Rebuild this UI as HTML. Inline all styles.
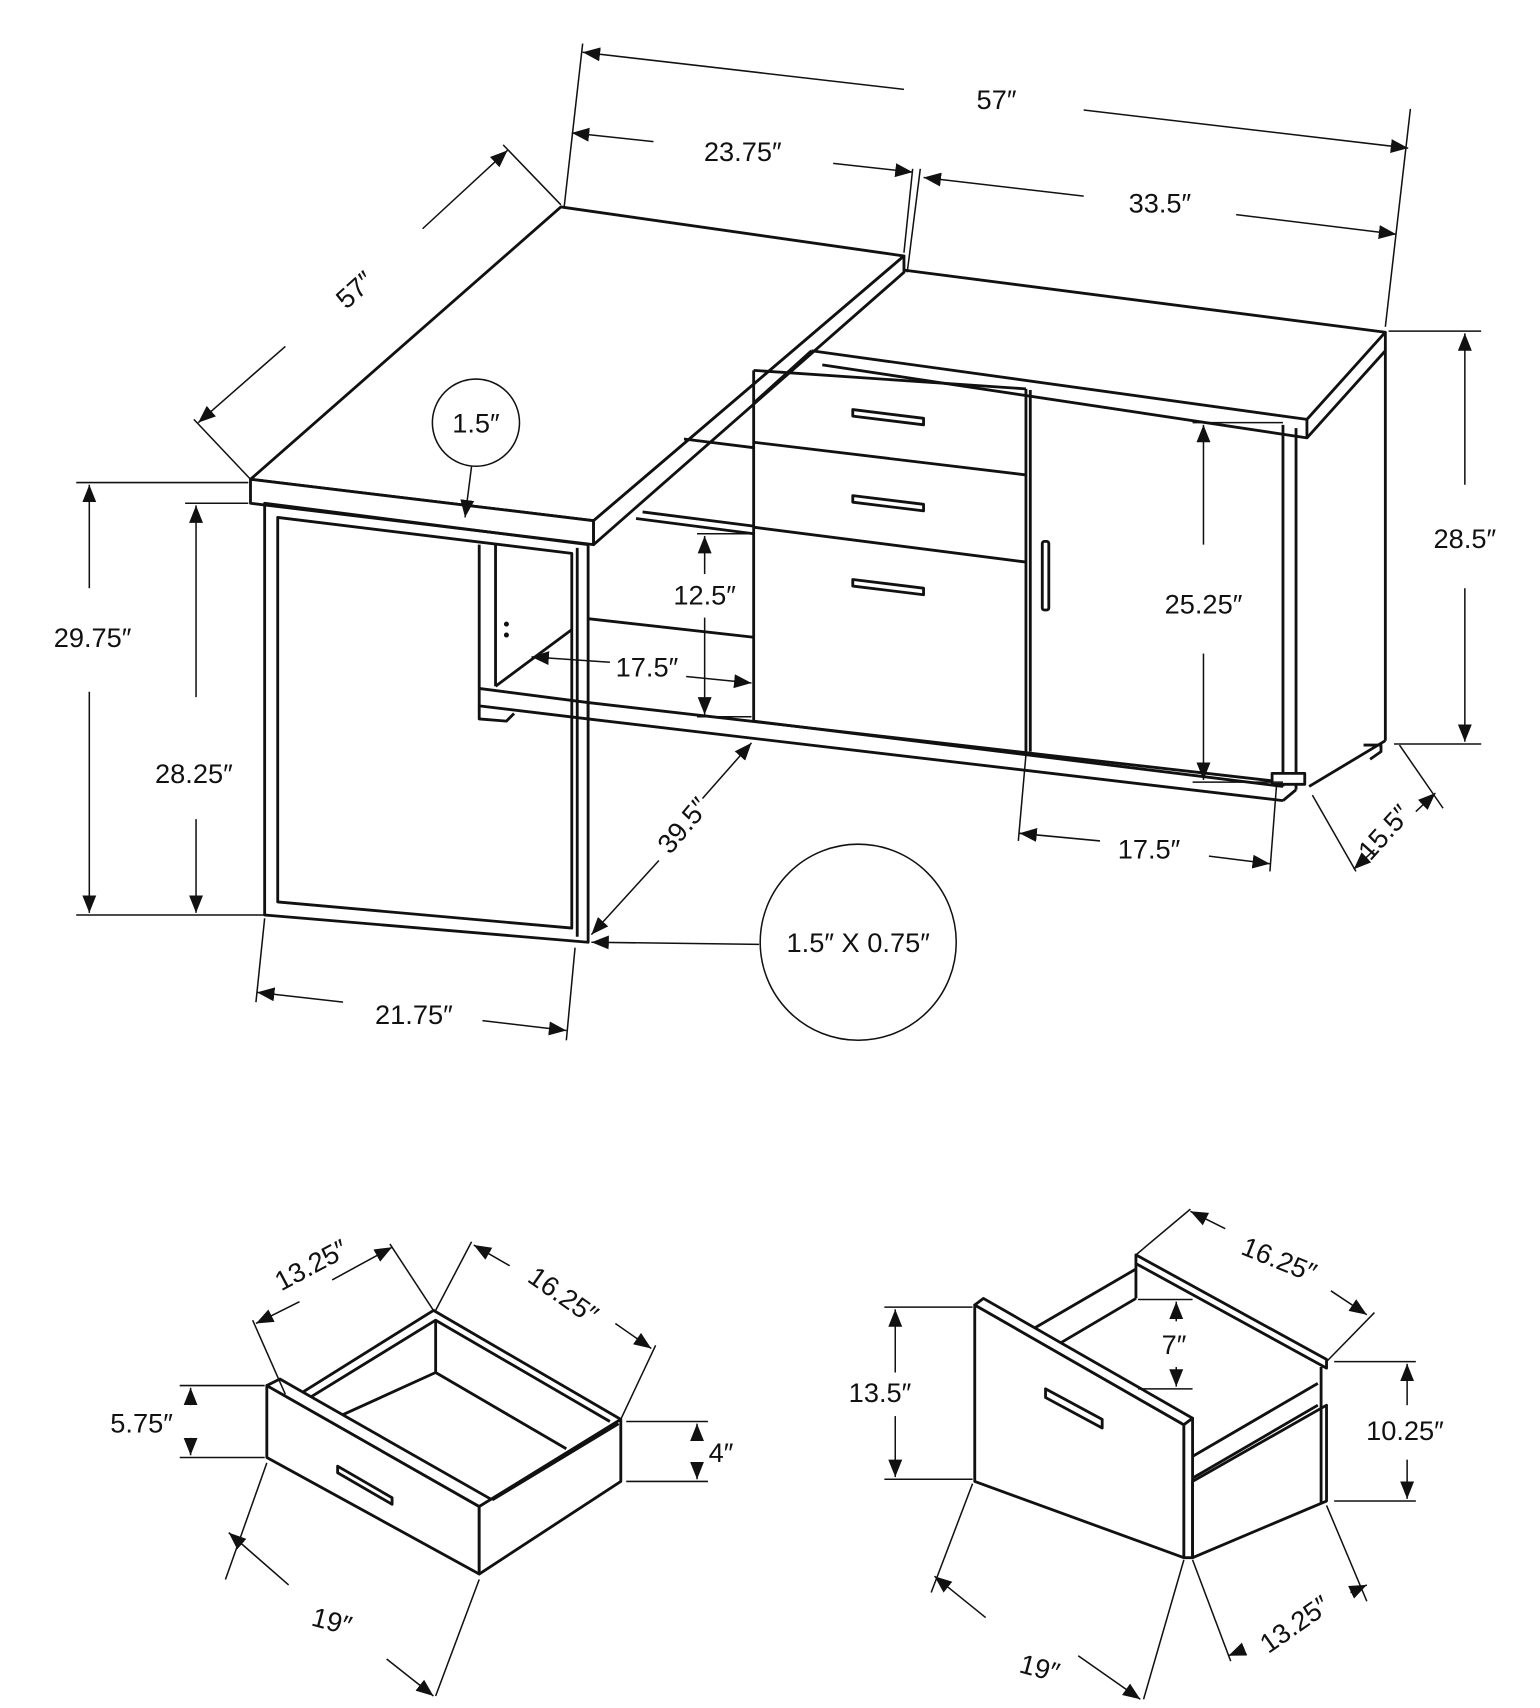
<!DOCTYPE html>
<html><head><meta charset="utf-8"><style>
html,body{margin:0;padding:0;background:#fff;}
svg{display:block;}
text{font-family:"Liberation Sans Narrow","Liberation Sans",sans-serif;fill:#111;font-size:25px;}
</style></head><body>
<svg width="1540" height="1708" viewBox="0 0 1414 1568" preserveAspectRatio="none" xmlns="http://www.w3.org/2000/svg">
<defs>
<marker id="a" viewBox="0 0 10 10" refX="10" refY="5" markerWidth="16" markerHeight="16" markerUnits="userSpaceOnUse" orient="auto-start-reverse"><path d="M0,1 L10,5 L0,9 z" fill="#111"/></marker>
</defs>
<g stroke="#111" fill="none" stroke-width="2.6" stroke-linejoin="round">
<polygon points="515,190 830,235 545,478 230,440" fill="#fff"/>
<polygon points="230,440 545,478 545,500 230,462" fill="#fff"/>
<polygon points="545,478 830,235 830,250 545,500" fill="#fff"/>
<polyline points="830,248 1272,305 1200,385 745,322"/>
<polyline points="1272,305 1272,322 1200,402 755,335"/>
<line x1="1200" y1="385" x2="1200" y2="402"/>
<line x1="1272" y1="322" x2="1272" y2="680"/>
<line x1="1272" y1="680" x2="1202" y2="722"/>
<line x1="1178" y1="390" x2="1178" y2="722"/>
<line x1="1190" y1="393" x2="1190" y2="725"/>
<line x1="692" y1="340" x2="692" y2="662"/>
<line x1="942" y1="357" x2="942" y2="690"/>
<line x1="946" y1="358" x2="946" y2="690"/>
<line x1="745" y1="322" x2="692" y2="370"/>
<line x1="692" y1="340" x2="942" y2="357"/>
<line x1="692" y1="406" x2="942" y2="436"/>
<line x1="692" y1="484" x2="942" y2="516"/>
<line x1="692" y1="662" x2="1178" y2="722"/>
<line x1="540" y1="645" x2="1178" y2="718"/>
<line x1="540" y1="660" x2="1178" y2="735"/>
<line x1="1178" y1="735" x2="1190" y2="725"/>
<rect x="1168" y="710" width="30" height="10" fill="#fff"/>
<polyline points="1252,684 1268,684 1268,690 1258,697"/>
<polygon points="783,376 848,384 848,390 783,382"/>
<polygon points="783,455 848,463 848,469 783,461"/>
<polygon points="783,532 848,540 848,546 783,538"/>
<rect x="957" y="497" width="6" height="63" rx="2"/>
<line x1="628" y1="403" x2="692" y2="411"/>
<line x1="590" y1="470" x2="692" y2="483"/>
<line x1="584" y1="476" x2="692" y2="490"/>
<line x1="540" y1="568" x2="692" y2="585"/>
<line x1="440" y1="500" x2="440" y2="632"/>
<line x1="455" y1="500" x2="455" y2="630"/>
<line x1="455" y1="630" x2="525" y2="578"/>
<polygon points="440,632 540,645 540,660 440,648" fill="#fff"/>
<polyline points="440,648 440,660 465,662 472,655"/>
<circle cx="465" cy="573" r="1" fill="#111"/><circle cx="465" cy="583" r="1" fill="#111"/>
<polygon points="243,462 540,500 540,865 243,840" fill="none"/>
<polygon points="255,475 525,508 525,852 255,828" fill="none"/>
<line x1="530" y1="503" x2="530" y2="860"/>
</g>
<g stroke="#111" fill="none" stroke-width="1.4">
<line x1="535" y1="40" x2="518" y2="190"/>
<line x1="1295" y1="100" x2="1272" y2="300"/>
<line x1="535" y1="48" x2="830" y2="82" marker-start="url(#a)"/>
<line x1="995" y1="101" x2="1293" y2="136" marker-end="url(#a)"/>
<line x1="525" y1="122" x2="600" y2="130" marker-start="url(#a)"/>
<line x1="765" y1="150" x2="838" y2="158" marker-end="url(#a)"/>
<line x1="838" y1="155" x2="830" y2="232"/>
<line x1="845" y1="155" x2="833" y2="250"/>
<line x1="848" y1="163" x2="995" y2="180" marker-start="url(#a)"/>
<line x1="1135" y1="197" x2="1282" y2="215" marker-end="url(#a)"/>
<line x1="462" y1="133" x2="515" y2="188"/>
<line x1="178" y1="385" x2="230" y2="440"/>
<line x1="388" y1="210" x2="466" y2="138" marker-end="url(#a)"/>
<line x1="262" y1="318" x2="182" y2="388" marker-end="url(#a)"/>
<line x1="1275" y1="304" x2="1360" y2="304"/>
<line x1="1280" y1="683" x2="1360" y2="683"/>
<line x1="1345" y1="445" x2="1345" y2="306" marker-end="url(#a)"/>
<line x1="1345" y1="540" x2="1345" y2="681" marker-end="url(#a)"/>
<line x1="1095" y1="388" x2="1178" y2="388"/>
<line x1="1095" y1="718" x2="1178" y2="718"/>
<line x1="1105" y1="500" x2="1105" y2="390" marker-end="url(#a)"/>
<line x1="1105" y1="600" x2="1105" y2="716" marker-end="url(#a)"/>
<line x1="70" y1="443" x2="228" y2="443"/>
<line x1="170" y1="462" x2="228" y2="462"/>
<line x1="70" y1="840" x2="243" y2="840"/>
<line x1="82" y1="540" x2="82" y2="445" marker-end="url(#a)"/>
<line x1="82" y1="635" x2="82" y2="838" marker-end="url(#a)"/>
<line x1="180" y1="640" x2="180" y2="464" marker-end="url(#a)"/>
<line x1="180" y1="752" x2="180" y2="838" marker-end="url(#a)"/>
<line x1="640" y1="490" x2="690" y2="490"/>
<line x1="640" y1="658" x2="690" y2="658"/>
<line x1="647" y1="527" x2="647" y2="492" marker-end="url(#a)"/>
<line x1="647" y1="567" x2="647" y2="656" marker-end="url(#a)"/>
<line x1="560" y1="608" x2="488" y2="603" marker-end="url(#a)"/>
<line x1="630" y1="621" x2="690" y2="627" marker-end="url(#a)"/>
<circle cx="437" cy="388" r="40"/>
<line x1="433" y1="428" x2="427" y2="475" marker-end="url(#a)"/>
<line x1="690" y1="682" x2="645" y2="733" marker-start="url(#a)"/>
<line x1="605" y1="790" x2="543" y2="858" marker-end="url(#a)"/>
<ellipse cx="788" cy="865" rx="90" ry="90"/>
<line x1="697" y1="867" x2="543" y2="865" marker-end="url(#a)"/>
<line x1="243" y1="843" x2="235" y2="920"/>
<line x1="528" y1="870" x2="520" y2="955"/>
<line x1="315" y1="920" x2="236" y2="911" marker-end="url(#a)"/>
<line x1="443" y1="937" x2="520" y2="946" marker-end="url(#a)"/>
<line x1="942" y1="693" x2="935" y2="772"/>
<line x1="1172" y1="722" x2="1166" y2="800"/>
<line x1="1010" y1="772" x2="936" y2="765" marker-end="url(#a)"/>
<line x1="1110" y1="786" x2="1166" y2="793" marker-end="url(#a)"/>
<line x1="1205" y1="730" x2="1245" y2="800"/>
<line x1="1285" y1="684" x2="1325" y2="742"/>
<line x1="1262" y1="780" x2="1243" y2="798" marker-end="url(#a)"/>
<line x1="1300" y1="745" x2="1318" y2="728" marker-end="url(#a)"/>
</g>
<g stroke="#111" fill="#fff" stroke-width="2.6" stroke-linejoin="round">
<polyline fill="none" points="270,1283 398,1203 570,1303"/>
<polyline fill="none" points="278,1287 400,1212 560,1305"/>
<line x1="400" y1="1212" x2="400" y2="1260"/>
<polyline fill="none" points="312,1300 400,1260 520,1330"/>
<polygon points="245,1272 440,1383 440,1445 245,1338"/>
<polygon points="245,1272 440,1383 452,1377 257,1266"/>
<polygon points="440,1383 570,1303 570,1360 440,1445"/>
<polyline fill="none" points="452,1377 568,1307"/>
<polygon points="310,1346 360,1375 360,1381 310,1352"/>
</g>
<g stroke="#111" fill="#fff" stroke-width="2.6" stroke-linejoin="round">
<polygon fill="none" points="1043,1152 1218,1248 1218,1256 1043,1160"/>
<polyline fill="none" points="1043,1160 1043,1192"/>
<polyline fill="none" points="1043,1165 945,1222"/>
<polyline fill="none" points="1043,1192 965,1238"/>
<polyline fill="none" points="1043,1275 1080,1298"/>
<line x1="1213" y1="1255" x2="1213" y2="1380"/>
<polyline fill="none" points="1210,1270 1095,1337"/>
<polyline fill="none" points="1210,1290 1095,1357"/>
<polygon points="895,1198 1087,1308 1087,1430 895,1360"/>
<polygon points="895,1198 1087,1308 1095,1302 903,1192"/>
<polygon points="1087,1308 1095,1302 1095,1430 1087,1430"/>
<polygon points="1095,1360 1218,1290 1218,1378 1095,1430" fill="none"/>
<polygon points="960,1275 1012,1303 1012,1311 960,1283"/>
</g>
<g stroke="#111" fill="none" stroke-width="1.4">
<line x1="398" y1="1203" x2="358" y2="1142"/>
<line x1="262" y1="1280" x2="232" y2="1212"/>
<line x1="305" y1="1175" x2="360" y2="1145" marker-end="url(#a)"/>
<line x1="275" y1="1195" x2="235" y2="1215" marker-end="url(#a)"/>
<line x1="400" y1="1203" x2="433" y2="1140"/>
<line x1="570" y1="1303" x2="602" y2="1235"/>
<line x1="468" y1="1162" x2="435" y2="1143" marker-end="url(#a)"/>
<line x1="565" y1="1215" x2="598" y2="1238" marker-end="url(#a)"/>
<line x1="165" y1="1272" x2="243" y2="1272"/>
<line x1="165" y1="1338" x2="243" y2="1338"/>
<line x1="175" y1="1290" x2="175" y2="1274" marker-end="url(#a)"/>
<line x1="175" y1="1320" x2="175" y2="1336" marker-end="url(#a)"/>
<line x1="575" y1="1305" x2="650" y2="1305"/>
<line x1="575" y1="1360" x2="650" y2="1360"/>
<line x1="640" y1="1322" x2="640" y2="1307" marker-end="url(#a)"/>
<line x1="640" y1="1345" x2="640" y2="1358" marker-end="url(#a)"/>
<line x1="245" y1="1343" x2="207" y2="1450"/>
<line x1="440" y1="1450" x2="400" y2="1557"/>
<line x1="265" y1="1455" x2="210" y2="1407" marker-end="url(#a)"/>
<line x1="355" y1="1523" x2="398" y2="1557" marker-end="url(#a)"/>
<line x1="1043" y1="1152" x2="1093" y2="1110"/>
<line x1="1218" y1="1250" x2="1262" y2="1205"/>
<line x1="1125" y1="1128" x2="1093" y2="1112" marker-end="url(#a)"/>
<line x1="1222" y1="1185" x2="1255" y2="1207" marker-end="url(#a)"/>
<line x1="1045" y1="1193" x2="1095" y2="1193"/>
<line x1="1045" y1="1275" x2="1095" y2="1275"/>
<line x1="1080" y1="1213" x2="1080" y2="1195" marker-end="url(#a)"/>
<line x1="1080" y1="1255" x2="1080" y2="1273" marker-end="url(#a)"/>
<line x1="812" y1="1200" x2="893" y2="1200"/>
<line x1="812" y1="1358" x2="893" y2="1358"/>
<line x1="822" y1="1260" x2="822" y2="1202" marker-end="url(#a)"/>
<line x1="822" y1="1300" x2="822" y2="1356" marker-end="url(#a)"/>
<line x1="1225" y1="1250" x2="1300" y2="1250"/>
<line x1="1225" y1="1378" x2="1300" y2="1378"/>
<line x1="1292" y1="1290" x2="1292" y2="1252" marker-end="url(#a)"/>
<line x1="1292" y1="1340" x2="1292" y2="1376" marker-end="url(#a)"/>
<line x1="893" y1="1362" x2="855" y2="1462"/>
<line x1="1087" y1="1432" x2="1050" y2="1560"/>
<line x1="905" y1="1485" x2="858" y2="1447" marker-end="url(#a)"/>
<line x1="990" y1="1520" x2="1047" y2="1560" marker-end="url(#a)"/>
<line x1="1095" y1="1432" x2="1130" y2="1525"/>
<line x1="1218" y1="1382" x2="1255" y2="1470"/>
<line x1="1140" y1="1515" x2="1128" y2="1520" marker-end="url(#a)"/>
<line x1="1240" y1="1462" x2="1255" y2="1455" marker-end="url(#a)"/>
</g>
<text x="915" y="100" text-anchor="middle" font-size="27">57″</text>
<text x="682" y="148" text-anchor="middle" font-size="27">23.75″</text>
<text x="1065" y="195" text-anchor="middle" font-size="27">33.5″</text>
<text x="325" y="275" text-anchor="middle" font-size="27" transform="rotate(-42 325 265)">57″</text>
<text x="437" y="397" text-anchor="middle" font-size="25">1.5″</text>
<text x="1345" y="503" text-anchor="middle" font-size="27">28.5″</text>
<text x="1105" y="563" text-anchor="middle" font-size="27">25.25″</text>
<text x="85" y="594" text-anchor="middle" font-size="27">29.75″</text>
<text x="178" y="719" text-anchor="middle" font-size="27">28.25″</text>
<text x="647" y="555" text-anchor="middle" font-size="21">12.5″</text>
<text x="594" y="621" text-anchor="middle" font-size="21">17.5″</text>
<text x="630" y="765" text-anchor="middle" font-size="20" transform="rotate(-50 630 760)">39.5″</text>
<text x="788" y="874" text-anchor="middle" font-size="26">1.5″ X 0.75″</text>
<text x="380" y="940" text-anchor="middle" font-size="27">21.75″</text>
<text x="1055" y="788" text-anchor="middle" font-size="27">17.5″</text>
<text x="1270" y="773" text-anchor="middle" font-size="27" transform="rotate(-48 1270 763)">15.5″</text>
<text x="285" y="1170" text-anchor="middle" font-size="27" transform="rotate(-28 285 1160)">13.25″</text>
<text x="518" y="1198" text-anchor="middle" font-size="27" transform="rotate(35 518 1188)">16.25″</text>
<text x="130" y="1315" text-anchor="middle" font-size="25">5.75″</text>
<text x="662" y="1342" text-anchor="middle" font-size="25">4″</text>
<text x="305" y="1497" text-anchor="middle" font-size="27" transform="rotate(15 305 1487)">19″</text>
<text x="1175" y="1165" text-anchor="middle" font-size="27" transform="rotate(22 1175 1155)">16.25″</text>
<text x="1078" y="1243" text-anchor="middle" font-size="25">7″</text>
<text x="808" y="1287" text-anchor="middle" font-size="25">13.5″</text>
<text x="1290" y="1322" text-anchor="middle" font-size="25">10.25″</text>
<text x="955" y="1540" text-anchor="middle" font-size="27" transform="rotate(15 955 1530)">19″</text>
<text x="1188" y="1500" text-anchor="middle" font-size="27" transform="rotate(-35 1188 1490)">13.25″</text>
</svg>
</body></html>
